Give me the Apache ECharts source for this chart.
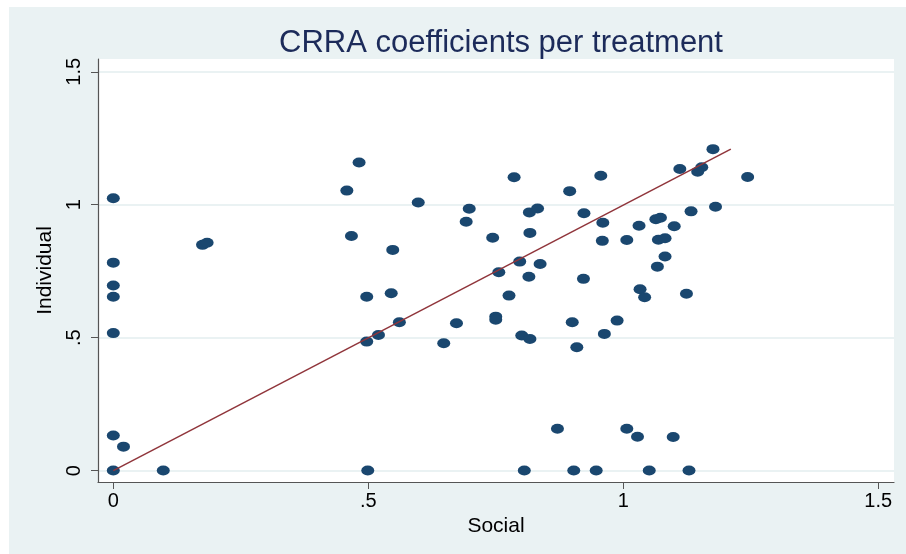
<!DOCTYPE html>
<html>
<head>
<meta charset="utf-8">
<script src="https://cdn.jsdelivr.net/npm/echarts@6/dist/echarts.min.js"></script>
<style>
  html, body { margin: 0; padding: 0; background: #fff; }
  #main { width: 906px; height: 554px; }
</style>
</head>
<body>
<div id="main"></div>
<script>
// tick values shared by both axes
const tickValues = [0, 0.5, 1, 1.5];

// scatter: Social (x) vs Individual (y)
const social = [
  0, 0, 0, 0, 0, 0, 0, 0.020, 0.098,
  0.175, 0.184,
  0.482, 0.458, 0.598, 0.467, 0.548, 0.497, 0.545, 0.561, 0.520, 0.497, 0.648, 0.499,
  0.786, 0.956, 0.895, 1.176, 1.111, 1.154, 1.146, 1.244,
  0.698, 0.692, 0.744, 0.816, 0.832, 0.817, 0.923, 0.960, 0.959, 1.007, 1.031, 1.064, 1.073, 1.100, 1.133, 1.181, 1.069, 1.082, 1.082, 1.067,
  0.797, 0.837, 0.756, 0.815, 0.922, 0.776, 1.033, 1.042, 1.124,
  0.673, 0.750, 0.750, 0.900, 0.988, 0.801, 0.817, 0.963, 0.909,
  0.871, 1.007, 1.028, 1.098,
  0.806, 0.903, 0.947, 1.051, 1.129
];
const individual = [
  1.024, 0.782, 0.696, 0.654, 0.517, 0.132, 0, 0.090, 0,
  0.849, 0.857,
  1.159, 1.053, 1.008, 0.882, 0.830, 0.654, 0.667, 0.558, 0.510, 0.485, 0.479, 0,
  1.103, 1.109, 1.051, 1.209, 1.134, 1.141, 1.124, 1.104,
  0.985, 0.936, 0.876, 0.971, 0.986, 0.894, 0.968, 0.932, 0.864, 0.867, 0.921, 0.945, 0.951, 0.919, 0.975, 0.992, 0.868, 0.874, 0.805, 0.767,
  0.786, 0.777, 0.746, 0.729, 0.721, 0.658, 0.682, 0.652, 0.665,
  0.554, 0.579, 0.567, 0.558, 0.564, 0.508, 0.495, 0.514, 0.464,
  0.157, 0.157, 0.127, 0.126,
  0, 0, 0, 0, 0
];

// fitted line endpoints
const fitX = [0, 1.211];
const fitY = [0, 1.209];

const font = 'Liberation Sans, Arial, sans-serif';
const fmt = v => String(v).replace(/^0\./, '.');

const chart = echarts.init(document.getElementById('main'));
chart.setOption({
  backgroundColor: 'transparent',
  animation: false,
  graphic: [{
    type: 'rect', z: -10, silent: true,
    shape: { x: 9, y: 7, width: 897, height: 547 },
    style: { fill: '#eaf2f3' }
  }],
  title: {
    text: 'CRRA coefficients per treatment',
    left: 496, top: 23, textAlign: 'center',
    textStyle: { fontFamily: font, fontSize: 31, fontWeight: 'normal', color: '#1c2b5a' }
  },
  grid: {
    left: 98, top: 59, width: 796, height: 423,
    show: true, backgroundColor: '#fff', borderWidth: 0
  },
  xAxis: {
    type: 'value', min: -0.030, max: 1.531,
    name: 'Social', nameLocation: 'middle', nameGap: 31,
    nameTextStyle: { fontFamily: font, fontSize: 21, color: '#000' },
    axisLine: { show: true, onZero: false, lineStyle: { color: '#555', width: 1.2 } },
    axisTick: { show: true, length: 7, customValues: tickValues, lineStyle: { color: '#555' } },
    axisLabel: { customValues: tickValues, formatter: fmt, margin: 9,
      fontFamily: font, fontSize: 20, color: '#000' },
    splitLine: { show: false }
  },
  yAxis: {
    type: 'value', min: -0.043, max: 1.548,
    name: 'Individual', nameLocation: 'middle', nameGap: 42,
    nameTextStyle: { fontFamily: font, fontSize: 21, color: '#000' },
    axisLine: { show: true, onZero: false, lineStyle: { color: '#555', width: 1.2 } },
    axisTick: { show: true, length: 7, customValues: tickValues, lineStyle: { color: '#555' } },
    axisLabel: { customValues: tickValues, formatter: fmt, rotate: 90, margin: 14,
      fontFamily: font, fontSize: 20, color: '#000' },
    splitLine: { show: true, lineStyle: { color: '#eaf2f3', width: 2 } }
  },
  series: [
    {
      type: 'scatter',
      symbol: 'circle', symbolSize: [13, 10],
      itemStyle: { color: '#1a476f', opacity: 1 },
      data: social.map((x, i) => [x, individual[i]]),
      z: 2
    },
    {
      type: 'line',
      symbol: 'none',
      lineStyle: { color: '#90353b', width: 1.5 },
      data: fitX.map((x, i) => [x, fitY[i]]),
      z: 3
    }
  ]
});
</script>
</body>
</html>
